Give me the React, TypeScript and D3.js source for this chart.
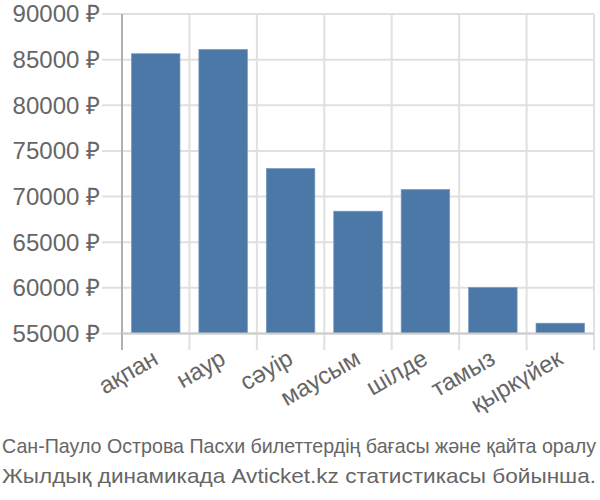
import React from "react";
import * as d3 from "d3";

const categories = ["ақпан", "наур", "сәуір", "маусым", "шілде", "тамыз", "қыркүйек"];
const values = [85650, 86120, 73080, 68400, 70780, 60050, 56130];
const yTicks = [55000, 60000, 65000, 70000, 75000, 80000, 85000, 90000];
const footerLines = [
  "Сан-Пауло Острова Пасхи билеттердің бағасы және қайта оралу",
  "Жылдық динамикада Avticket.kz статистикасы бойынша.",
];

export default function App() {
  const W = 600, H = 500;
  const left = 122, right = 594, top = 14, bottom = 333.5;
  const x = d3.scaleBand<string>().domain(categories).range([left, right]).paddingInner(0.28).paddingOuter(0.14);
  const y = d3.scaleLinear().domain([55000, 90000]).range([bottom, top]);
  const step = x.step();
  const font = "'Liberation Sans', Arial, sans-serif";
  return (
    <svg width={W} height={H} style={{ position: "absolute", left: 0, top: 0 }}>
      <rect width={W} height={H} fill="#fff" />
      {yTicks.map((t) => (
        <g key={t}>
          <line x1={102} x2={right} y1={y(t)} y2={y(t)} stroke="#e0e0e0" strokeWidth={2} />
          <text x={100} y={y(t)} dy="0.35em" textAnchor="end" fontFamily={font} fontSize={24} fill="#666">
            {d3.format("d")(t) + " ₽"}
          </text>
        </g>
      ))}
      {categories.map((c, i) => {
        const gx = left + i * step;
        return (
          <line key={"g" + c} x1={gx} x2={gx} y1={top} y2={350} stroke={i === 0 ? "#b0b0b0" : "#e0e0e0"} strokeWidth={2} />
        );
      })}
      <line x1={right} x2={right} y1={top} y2={350} stroke="#e0e0e0" strokeWidth={2} />
      {categories.map((c, i) => (
        <rect key={c} x={x(c)} y={y(values[i])} width={x.bandwidth()} height={bottom - y(values[i])} fill="#4c78a8" stroke="#7a9cc4" strokeWidth={0.7} />
      ))}
      <line x1={left} x2={right} y1={bottom} y2={bottom} stroke="#cccccc" strokeWidth={2} />
      {categories.map((c) => {
        const cx = (x(c) as number) + x.bandwidth() / 2 + 4;
        return (
          <text key={"l" + c} transform={`translate(${cx},${363}) rotate(-30)`} textAnchor="end" fontFamily={font} fontSize={24} fill="#666">
            {c}
          </text>
        );
      })}
      {footerLines.map((l, i) => (
        <text key={i} x={2} y={453 + i * 30} textAnchor="start" fontFamily={font} fontSize={21} fill="#666" textLength={594} lengthAdjust="spacingAndGlyphs">
          {l}
        </text>
      ))}
    </svg>
  );
}
